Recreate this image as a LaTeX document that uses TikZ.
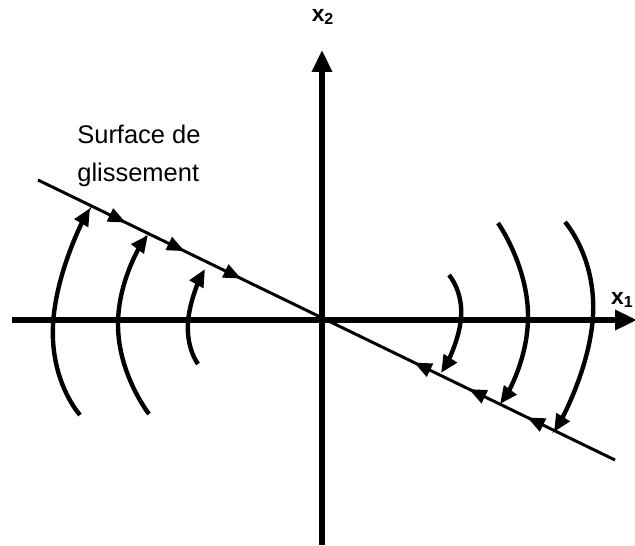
\documentclass[tikz,border=0pt]{standalone}
\usepackage{fontspec}
\setmainfont{Liberation Sans}
\usetikzlibrary{arrows.meta,decorations.markings}
\begin{document}
\begin{tikzpicture}[x=0.02cm,y=-0.02cm,
  axis/.style={line width=3.4pt,-{Triangle[length=12.5pt,width=11pt]}},
  slide/.style={line width=1.7pt},
  traj/.style={line width=2.5pt,-{Triangle[length=10pt,width=8.5pt]}},
  lbl/.style={inner sep=0pt,font=\fontsize{14.5pt}{17pt}\selectfont}]
\useasboundingbox (0,0) rectangle (635,545);
% axes
\coordinate (O) at (322,320);
\coordinate (xl) at (12,320);
\coordinate (xr) at (637,320);
\coordinate (yb) at (322,545);
\coordinate (yt) at (322,50);
\draw[axis] (xl) -- (xr);
\draw[axis] (yb) -- (yt);
\node[lbl,font=\bfseries\fontsize{13pt}{15pt}\selectfont] (x2) at (323,17) {x\textsubscript{2}};
\node[lbl,font=\bfseries\fontsize{13pt}{15pt}\selectfont,anchor=east] (x1) at (634,300) {x\textsubscript{1}};
% sliding surface
\coordinate (sA) at (38,180);
\coordinate (sB) at (615,460);
\draw[slide,postaction={decorate},decoration={markings,
  mark=at position 0.152 with {\arrow{Triangle[length=10pt,width=8pt]}},
  mark=at position 0.254 with {\arrow{Triangle[length=10pt,width=8pt]}},
  mark=at position 0.352 with {\arrow{Triangle[length=10pt,width=8pt]}},
  mark=at position 0.652 with {\arrowreversed{Triangle[length=10pt,width=8pt]}},
  mark=at position 0.747 with {\arrowreversed{Triangle[length=10pt,width=8pt]}},
  mark=at position 0.848 with {\arrowreversed{Triangle[length=10pt,width=8pt]}}}]
  (sA) -- (sB);
\node[lbl,anchor=base west] (t1) at (77,143) {Surface de};
\node[lbl,anchor=base west] (t2) at (77,181) {glissement};
% trajectories left
\draw[traj] plot[smooth,tension=1] coordinates {(80,415) (53,325) (90,208)};
\draw[traj] plot[smooth,tension=1] coordinates {(149,414) (118,325) (148,235)};
\draw[traj] plot[smooth,tension=1] coordinates {(198,364) (188,322) (205,269)};
% trajectories right
\draw[traj] plot[smooth,tension=1] coordinates {(449,275) (461,318) (441,373)};
\draw[traj] plot[smooth,tension=1] coordinates {(498,223) (528,315) (500,404)};
\draw[traj] plot[smooth,tension=1] coordinates {(565,222) (593,315) (554,432)};
\end{tikzpicture}
\end{document}
